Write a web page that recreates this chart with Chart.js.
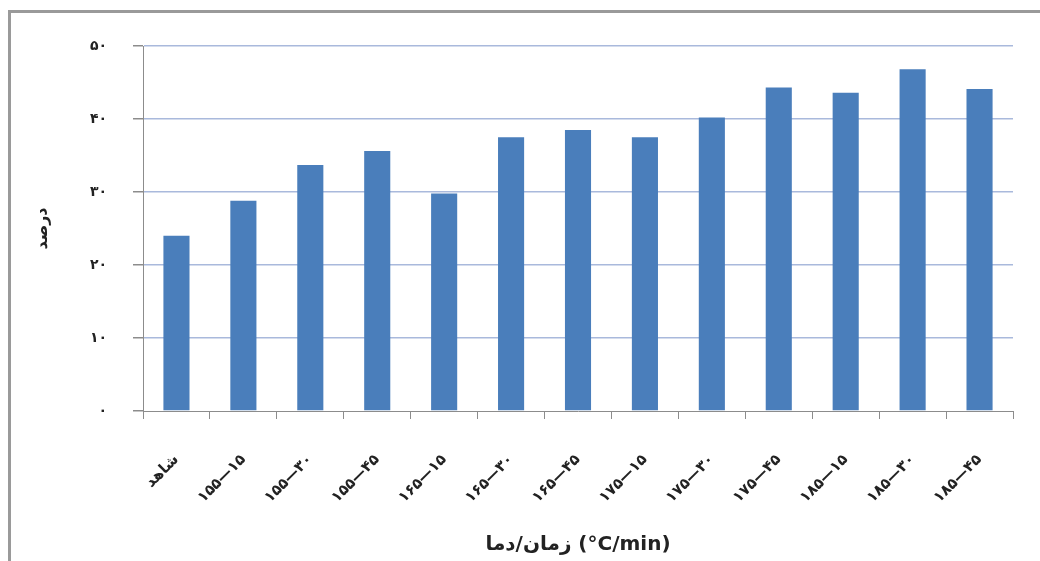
<!DOCTYPE html>
<html>
<head>
<meta charset="utf-8">
<script src="https://cdn.jsdelivr.net/npm/chart.js@4/dist/chart.umd.min.js"></script>
<style>
  html, body { margin: 0; padding: 0; background: #ffffff; }
  #wrap { position: relative; width: 1040px; height: 561px; overflow: hidden; }
  #frame {
    position: absolute; left: 8px; top: 10px; right: -10px; bottom: -10px;
    border-left: 3px solid #9a9a9a; border-top: 3px solid #9a9a9a;
    pointer-events: none;
  }
  canvas { position: absolute; left: 0; top: 0; }
</style>
</head>
<body>
<div id="wrap">
  <canvas id="chart" width="1040" height="561"></canvas>
  <div id="frame"></div>
</div>
<script>
// Treatment groups: control, then temperature—time combinations
const categories = [
  'شاهد',
  '۱۵۵—۱۵', '۱۵۵—۳۰', '۱۵۵—۴۵',
  '۱۶۵—۱۵', '۱۶۵—۳۰', '۱۶۵—۴۵',
  '۱۷۵—۱۵', '۱۷۵—۳۰', '۱۷۵—۴۵',
  '۱۸۵—۱۵', '۱۸۵—۳۰', '۱۸۵—۴۵'
];

// Percentage per treatment
const percentValues = [24.0, 28.8, 33.7, 35.6, 29.8, 37.5, 38.5, 37.5, 40.2, 44.3, 43.6, 46.8, 44.1];

// Y-axis tick labels in Persian digits (0..50 step 10)
const yTickLabels = ['۰', '۱۰', '۲۰', '۳۰', '۴۰', '۵۰'];

const yTitle = 'درصد';
// temperature / time, laid out left to right like the unit that follows
const xTitle = 'دما\u200E/\u200Eزمان (°C/min)';

const FONT = '"DejaVu Sans", "Noto Sans", sans-serif';
const AXIS_GRAY = '#8c8c8c';
const GRID_BLUE = '#a9b9dc';
const TEXT_COLOR = '#222222';

new Chart(document.getElementById('chart'), {
  type: 'bar',
  data: {
    labels: categories,
    datasets: [{
      data: percentValues,
      backgroundColor: '#4a7ebb',
      borderWidth: 0,
      barPercentage: 0.39,
      categoryPercentage: 1.0
    }]
  },
  options: {
    responsive: false,
    animation: false,
    devicePixelRatio: 1,
    layout: { padding: { left: 0, top: 46, right: 27, bottom: 0 } },
    plugins: {
      legend: { display: false },
      tooltip: { enabled: false }
    },
    scales: {
      x: {
        offset: true,
        grid: {
          offset: true,
          drawOnChartArea: false,
          drawTicks: true,
          tickLength: 8,
          color: AXIS_GRAY,
          tickColor: AXIS_GRAY,
          lineWidth: 1
        },
        border: { display: true, color: AXIS_GRAY, width: 1 },
        ticks: {
          autoSkip: false,
          minRotation: 45,
          maxRotation: 45,
          padding: 32,
          color: TEXT_COLOR,
          font: { family: FONT, size: 15, weight: 'bold' }
        },
        title: {
          display: true,
          text: xTitle,
          color: TEXT_COLOR,
          font: { family: FONT, size: 20, weight: 'bold' },
          padding: { top: 0, bottom: 4 }
        },
        afterFit(scale) { scale.height = 150; }
      },
      y: {
        min: 0,
        max: 50,
        ticks: {
          stepSize: 10,
          padding: 26,
          color: TEXT_COLOR,
          font: { family: FONT, size: 14, weight: 'bold' },
          callback: (value) => yTickLabels[Math.round(value / 10)]
        },
        grid: {
          color: (ctx) => (ctx.tick && ctx.tick.value === 0) ? 'rgba(0,0,0,0)' : GRID_BLUE,
          tickColor: AXIS_GRAY,
          tickLength: 10,
          lineWidth: 1.5
        },
        border: { display: true, color: AXIS_GRAY, width: 1 },
        title: {
          display: true,
          text: yTitle,
          color: TEXT_COLOR,
          font: { family: FONT, size: 16, weight: 'bold' },
          padding: { top: 33, bottom: 0 }
        },
        afterFit(scale) { scale.width = 143; }
      }
    }
  }
});
</script>
</body>
</html>
